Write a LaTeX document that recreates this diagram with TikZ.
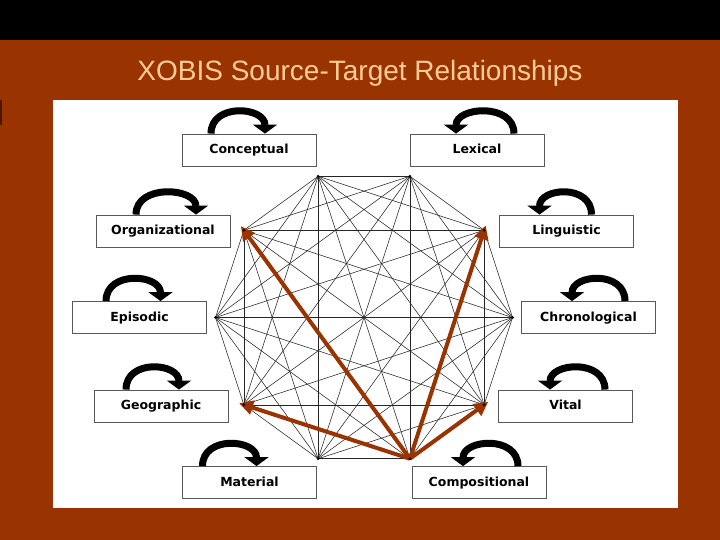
\documentclass[tikz,border=0pt]{standalone}
\usepackage{fontspec}
\setmainfont{Liberation Sans}
\newfontfamily\labelfont{DejaVu Sans}
\usetikzlibrary{arrows.meta}
\definecolor{rust}{HTML}{993300}
\definecolor{peach}{HTML}{FFCC99}
\begin{document}
\begin{tikzpicture}[x=1pt,y=1pt,
  kind/.style={draw=black!65,fill=white,line width=0.8pt,minimum width=134pt,minimum height=32pt,inner sep=0pt,
    text height=9pt,text depth=1pt,font=\labelfont\bfseries\fontsize{12.5}{14}\selectfont},
  selfloop/.style={line width=7pt,-{Triangle[width=24pt,length=9pt]}},
  link/.style={black!85,line width=0.55pt},
  claim/.style={rust,line width=4pt,-{Triangle[width=14pt,length=14pt]},shorten >=-5pt}]
\fill[black] (0,0) rectangle (720,540);
\fill[rust] (0,0) rectangle (720,500);
\fill[rust!50!black] (0,415) rectangle (2,440);
\fill[white] (53,32) rectangle (678,440);
\node[peach,font=\fontsize{28}{32}\selectfont] (title) at (360,467) {XOBIS Source-Target Relationships};
% decagon of the ten kinds, every pair joined
\foreach \i in {0,...,9}
  \coordinate (v\i) at ({364+148.5*cos(36*\i)},{222.5+148.5*sin(36*\i)});
\foreach \i in {0,...,8}{
  \pgfmathtruncatemacro\k{\i+1}
  \foreach \j in {\k,...,9}
    \draw[link] (v\i) -- (v\j);
}
\foreach \t in {4,1,6,9}
  \draw[claim] (v8) -- (v\t);
\foreach \i in {0,...,9}
  \fill (v\i) circle (1.5pt);
% boxes
\node[kind] (con) at (249,390) {Conceptual};
\node[kind] (lex) at (477,390) {Lexical};
\node[kind] (org) at (163,309) {Organizational};
\node[kind] (lin) at (566.5,309) {Linguistic};
\node[kind] (epi) at (139.5,222.5) {Episodic};
\node[kind] (chr) at (588.5,222.5) {Chronological};
\node[kind] (geo) at (161,134) {Geographic};
\node[kind] (vit) at (565.5,134) {Vital};
\node[kind] (mat) at (249.5,57.5) {Material};
\node[kind] (com) at (479,57.5) {Compositional};
% self relationships
\foreach \n/\a/\b in {con/-38/16, lex/37/-21, org/-27/33, lin/25/-27, epi/-33.5/21,
                      chr/36.5/-16.5, geo/-35/18, vit/39.5/-15.5, mat/-47/7, com/39/-16}
  \draw[selfloop] ([xshift=\a pt]\n.north) .. controls +(0,31) and +(0,27) .. ([xshift=\b pt]\n.north);
\end{tikzpicture}
\end{document}
